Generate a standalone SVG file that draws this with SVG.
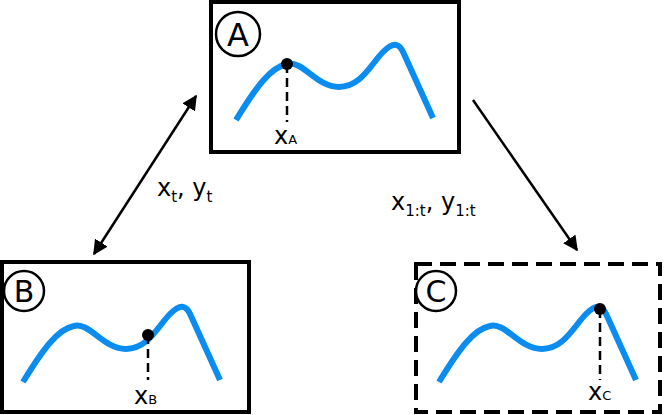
<svg xmlns="http://www.w3.org/2000/svg" width="664" height="415" viewBox="0 0 664 415">
<defs>
<marker id="ah" viewBox="0 0 10 10" refX="9" refY="5" markerWidth="6" markerHeight="6" orient="auto-start-reverse"><path d="M0,0 L10,5 L0,10 z" fill="#000"/></marker>
<path id="curve" d="M25,118 C45,85 60,65 76,62 C92,58 105,85 128,85 C150,85 160,62 172,50 C182,40 188,40 193,52 L222,116" fill="none" stroke="#0a8cf0" stroke-width="6"/>
</defs>
<style>
.box{fill:#fff;stroke:#000;stroke-width:4}
.circ{fill:#fff;stroke:#000;stroke-width:2.5}
.t{font-family:"DejaVu Sans",sans-serif;fill:#000}
.dl{stroke:#000;stroke-width:2.5;stroke-dasharray:9,5}
</style>
<rect width="664" height="415" fill="#fff"/>
<g id="nodeA">
<rect class="box" x="211" y="2" width="248" height="150"/>
<use href="#curve" x="211" y="2"/>
<line class="dl" x1="287" y1="64" x2="287" y2="122"/>
<circle cx="287" cy="64" r="6" fill="#000"/>
<circle class="circ" cx="238" cy="34" r="22"/>
<text class="t" x="238" y="46" font-size="32" text-anchor="middle">A</text>
<text class="t" x="274" y="144" font-size="24">x<tspan font-size="13">A</tspan></text>
</g>
<g id="nodeB">
<rect class="box" x="2" y="262" width="247" height="150"/>
<use href="#curve" x="-2" y="264"/>
<line class="dl" x1="148" y1="335" x2="148" y2="380"/>
<circle cx="148" cy="335" r="6" fill="#000"/>
<circle class="circ" cx="24" cy="291" r="20"/>
<text class="t" x="24" y="302" font-size="30" text-anchor="middle">B</text>
<text class="t" x="134" y="404" font-size="24">x<tspan font-size="13">B</tspan></text>
</g>
<g id="nodeC">
<rect class="box" x="416" y="264" width="244" height="148" stroke-dasharray="16,8"/>
<use href="#curve" x="414" y="264"/>
<line class="dl" x1="600" y1="309" x2="600" y2="380"/>
<circle cx="600" cy="309" r="6" fill="#000"/>
<circle class="circ" cx="436" cy="291" r="20"/>
<text class="t" x="436" y="302" font-size="30" text-anchor="middle">C</text>
<text class="t" x="588" y="400" font-size="24">x<tspan font-size="13">C</tspan></text>
</g>
<g id="connectors">
<line x1="196" y1="96" x2="94" y2="254" stroke="#000" stroke-width="2.5" marker-start="url(#ah)" marker-end="url(#ah)"/>
<line x1="473" y1="100" x2="577" y2="250" stroke="#000" stroke-width="2.5" marker-end="url(#ah)"/>
<text class="t" x="157" y="196" font-size="24">x<tspan font-size="15" dy="6">t</tspan><tspan dy="-6">, y</tspan><tspan font-size="15" dy="6">t</tspan></text>
<text class="t" x="391" y="210" font-size="24">x<tspan font-size="15" dy="6">1:t</tspan><tspan dy="-6">, y</tspan><tspan font-size="15" dy="6">1:t</tspan></text>
</g>
</svg>
